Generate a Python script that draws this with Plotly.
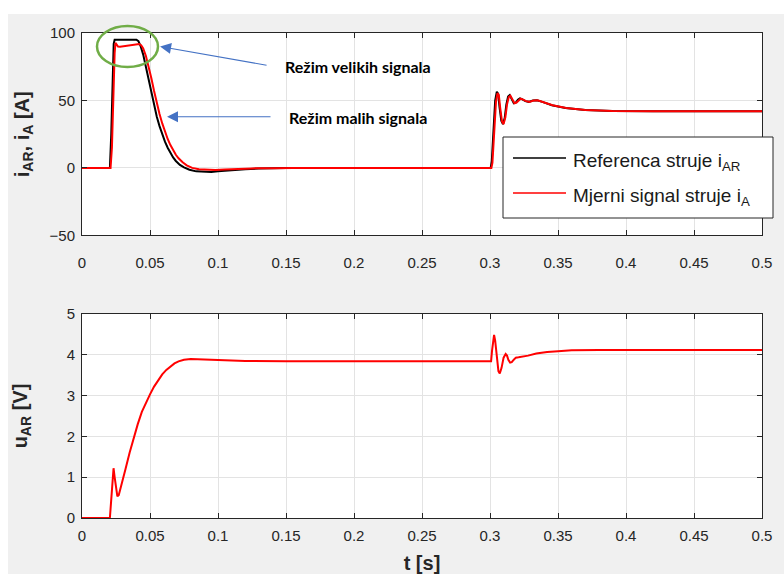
import plotly.graph_objects as go

# ---------------- data ----------------
t_ref = [0, 0.0205, 0.0215, 0.0225, 0.0233, 0.0240, 0.030, 0.040, 0.0415, 0.043,
         0.045, 0.047, 0.049, 0.051, 0.053, 0.055, 0.057, 0.059, 0.061, 0.063,
         0.065, 0.067, 0.069, 0.072, 0.075, 0.079, 0.084, 0.089, 0.095, 0.100,
         0.110, 0.120, 0.130, 0.140, 0.150,
         0.300, 0.3005, 0.3013, 0.3027, 0.3038, 0.3050, 0.3060, 0.3070, 0.3083, 0.3095,
         0.3108, 0.3120, 0.3133, 0.3145, 0.3160, 0.3175, 0.3190, 0.3205, 0.3220, 0.3235,
         0.3260, 0.3285, 0.3315, 0.3345, 0.3385, 0.3455, 0.3555, 0.3700, 0.3900, 0.4200,
         0.5000]
i_ref = [0, 0, 25, 70, 92, 95, 95, 95, 94, 90.5,
         84, 75, 65, 55, 46, 38, 31, 25, 19.5, 15,
         11, 7.8, 5.2, 2.3, 0.4, -1.3, -2.5, -2.9, -2.9, -2.5,
         -1.6, -0.9, -0.4, -0.1, 0,
         0, 0, 5, 30, 50, 56.5, 55, 45, 35, 32.5,
         37, 47, 53, 54, 51, 48, 48.5, 50.5, 51.5, 51,
         49.5, 49, 50, 50.2, 49, 46.5, 44.5, 43, 42.3, 42,
         42]

t_meas = [0, 0.0210, 0.0220, 0.0230, 0.0240, 0.0246, 0.0255, 0.0265, 0.0280, 0.0320,
          0.0360, 0.0400, 0.0420, 0.0435, 0.0450, 0.0470, 0.0490, 0.0510, 0.0530, 0.0550,
          0.0570, 0.0590, 0.0610, 0.0630, 0.0650, 0.0670, 0.0690, 0.0710, 0.0740, 0.0770,
          0.0810, 0.0860, 0.0920, 0.0980, 0.1050, 0.1150, 0.1250, 0.1400, 0.1550, 0.3000,
          0.3010, 0.3018, 0.3032, 0.3044, 0.3055, 0.3065, 0.3075, 0.3088, 0.3100, 0.3113,
          0.3125, 0.3138, 0.3150, 0.3165, 0.3180, 0.3195, 0.3210, 0.3225, 0.3240, 0.3265,
          0.3290, 0.3320, 0.3350, 0.3390, 0.3460, 0.3560, 0.3700, 0.3900, 0.4200, 0.5000]
i_meas = [0, 0, 15, 55, 85, 92.7, 91.5, 90, 89.8, 90.5,
          91, 91.5, 91.8, 91, 88.5, 83, 75.5, 66.5, 57, 48,
          40, 33, 27, 21.5, 17, 13, 9.8, 7.2, 4.2, 2,
          0.1, -1, -1.4, -1.4, -1.1, -0.6, -0.3, -0.1, 0, 0,
          0, 4, 28, 49, 55.5, 54, 44.5, 34.5, 32.5, 37.5,
          47, 52.5, 53.5, 50.5, 48, 48.5, 50.3, 51.3, 50.8, 49.5,
          49, 50, 50.1, 49, 46.5, 44.5, 43, 42.3, 42, 42]

t_u = [0, 0.0205, 0.0215, 0.0225, 0.0232, 0.0240, 0.0250, 0.0260, 0.0270, 0.0290,
       0.0320, 0.0350, 0.0380, 0.0410, 0.0440, 0.0470, 0.0500, 0.0530, 0.0560, 0.0590,
       0.0620, 0.0650, 0.0680, 0.0710, 0.0750, 0.0800, 0.0900, 0.1000, 0.1200, 0.1500,
       0.3000, 0.3008, 0.3015, 0.3023, 0.3030, 0.3038, 0.3050, 0.3062, 0.3072, 0.3085,
       0.3100, 0.3115, 0.3125, 0.3135, 0.3148, 0.3160, 0.3175, 0.3190, 0.3210, 0.3240,
       0.3280, 0.3340, 0.3420, 0.3500, 0.3600, 0.3800, 0.4200, 0.5000]
u_ar = [0, 0, 0.45, 1.05, 1.22, 1.0, 0.7, 0.53, 0.56, 0.8,
        1.2, 1.6, 1.97, 2.3, 2.6, 2.83, 3.03, 3.22, 3.38, 3.52,
        3.63, 3.72, 3.79, 3.84, 3.88, 3.9, 3.89, 3.87, 3.85, 3.84,
        3.84, 3.84, 4.1, 4.4, 4.49, 4.35, 3.9, 3.6, 3.54, 3.68,
        3.93, 4.02, 3.98, 3.88, 3.81, 3.82, 3.88, 3.93, 3.94, 3.95,
        3.98, 4.03, 4.07, 4.09, 4.11, 4.12, 4.12, 4.12]

x_ticks = [0, 0.05, 0.1, 0.15, 0.2, 0.25, 0.3, 0.35, 0.4, 0.45, 0.5]
x_tick_text = ["0", "0.05", "0.1", "0.15", "0.2", "0.25", "0.3", "0.35", "0.4", "0.45", "0.5"]
y1_ticks = [-50, 0, 50, 100]
y2_ticks = [0, 1, 2, 3, 4, 5]

legend_names = ["Referenca struje i<sub>AR</sub>", "Mjerni signal struje i<sub>A</sub>"]
note_texts = ["Režim velikih signala", "Režim malih signala"]

# ---------------- figure ----------------
FONT = "Liberation Sans, Arial, sans-serif"
AX = "#262626"
GRID = "#e3e3e3"

fig = go.Figure()
fig.add_trace(go.Scatter(x=t_ref, y=i_ref, mode="lines", name=legend_names[0],
                         line=dict(color="#000000", width=2), xaxis="x", yaxis="y",
                         showlegend=False))
fig.add_trace(go.Scatter(x=t_meas, y=i_meas, mode="lines", name=legend_names[1],
                         line=dict(color="#ff0000", width=2), xaxis="x", yaxis="y",
                         showlegend=False))
fig.add_trace(go.Scatter(x=t_u, y=u_ar, mode="lines", name="u_AR",
                         line=dict(color="#ff0000", width=2), xaxis="x2", yaxis="y2",
                         showlegend=False))

common_ax = dict(showline=True, linecolor=AX, linewidth=1, mirror="ticks",
                 ticks="inside", ticklen=5, tickcolor=AX, tickwidth=1,
                 showgrid=True, gridcolor=GRID, gridwidth=1, zeroline=False,
                 automargin=False,
                 tickfont=dict(family=FONT, size=15, color=AX))

fig.update_layout(
    width=784, height=574,
    margin=dict(l=82, r=22, t=33, b=56),
    paper_bgcolor="#f0f0f0", plot_bgcolor="#ffffff",
    showlegend=False,
    xaxis=dict(domain=[0, 1], range=[0, 0.5], tickvals=x_ticks, ticktext=x_tick_text,
               anchor="y", ticklabelstandoff=14, **common_ax),
    yaxis=dict(domain=[0.5825, 1], range=[-50, 100], tickvals=y1_ticks,
               anchor="x", ticklabelstandoff=3,
               title=dict(text="i<sub>AR</sub>, i<sub>A</sub> [A]", standoff=14,
                          font=dict(family=FONT, size=20, color=AX, weight="bold")),
               **common_ax),
    xaxis2=dict(domain=[0, 1], range=[0, 0.5], tickvals=x_ticks, ticktext=x_tick_text,
                anchor="y2", ticklabelstandoff=4,
                title=dict(text="t [s]", standoff=15,
                           font=dict(family=FONT, size=20, color=AX, weight="bold")),
                **common_ax),
    yaxis2=dict(domain=[0, 0.4206], range=[0, 5], tickvals=y2_ticks,
                anchor="x2", ticklabelstandoff=3,
                title=dict(text="u<sub>AR</sub> [V]", standoff=33,
                           font=dict(family=FONT, size=20, color=AX, weight="bold")),
                **common_ax),
)

# white strips at the top and left of the original screenshot
fig.add_shape(type="rect", xref="paper", yref="paper", x0=-0.2, x1=1.2,
              y0=(518 - 14) / 485, y1=1.2, fillcolor="#ffffff", line=dict(width=0), layer="above")
fig.add_shape(type="rect", xref="paper", yref="paper", x0=-0.2, x1=(8 - 82) / 680,
              y0=-0.2, y1=1.2, fillcolor="#ffffff", line=dict(width=0), layer="above")

# green ellipse around the large-signal region
fig.add_shape(type="circle", xref="paper", yref="paper",
              x0=(97 - 82) / 680, x1=(158 - 82) / 680,
              y0=(518 - 67) / 485, y1=(518 - 26) / 485,
              line=dict(color="#70AD47", width=2.5), layer="above")

# arrows
ARROW = "#4472C4"
fig.add_annotation(x=0.0574, y=90, xref="x", yref="y", ax=108, ay=19,
                   axref="pixel", ayref="pixel", text="", showarrow=True,
                   arrowhead=2, arrowsize=2.0, arrowwidth=1.1, arrowcolor=ARROW, standoff=0)
fig.add_annotation(x=0.0625, y=38, xref="x", yref="y", ax=105, ay=0,
                   axref="pixel", ayref="pixel", text="", showarrow=True,
                   arrowhead=2, arrowsize=2.0, arrowwidth=1.1, arrowcolor=ARROW, standoff=0)

NOTE_FONT = dict(family="Lato, Open Sans, sans-serif", size=16, color="#000000", weight="bold")
fig.add_annotation(x=(283 - 82) / 680, y=(518 - 66) / 485, xref="paper", yref="paper",
                   text=note_texts[0], showarrow=False, xanchor="left", yanchor="middle",
                   font=NOTE_FONT)
fig.add_annotation(x=(287 - 82) / 680, y=(518 - 117) / 485, xref="paper", yref="paper",
                   text=note_texts[1], showarrow=False, xanchor="left", yanchor="middle",
                   font=NOTE_FONT)

# legend box (drawn like the MATLAB legend)
fig.add_shape(type="rect", xref="paper", yref="paper",
              x0=(503 - 82) / 680, x1=(773 - 82) / 680,
              y0=(518 - 218) / 485, y1=(518 - 137) / 485,
              fillcolor="#ffffff", line=dict(color=AX, width=1), layer="above")
for k, (col, ypx) in enumerate([("#000000", 158), ("#ff0000", 193)]):
    fig.add_shape(type="line", xref="paper", yref="paper",
                  x0=(513 - 82) / 680, x1=(566 - 82) / 680,
                  y0=(518 - ypx) / 485, y1=(518 - ypx) / 485,
                  line=dict(color=col, width=1.5), layer="above")
    fig.add_annotation(x=(571 - 82) / 680, y=(518 - ypx - 4) / 485, xref="paper", yref="paper",
                       text=legend_names[k], showarrow=False, xanchor="left", yanchor="middle",
                       font=dict(family=FONT, size=19, color="#1a1a1a"))

# no body margin, no scrolling
page_js = ("document.documentElement.style.overflow='hidden';"
           "document.body.style.margin='0';"
           "document.body.style.overflow='hidden';")
fig.write_html("out.html", config={"displayModeBar": False}, post_script=page_js)
